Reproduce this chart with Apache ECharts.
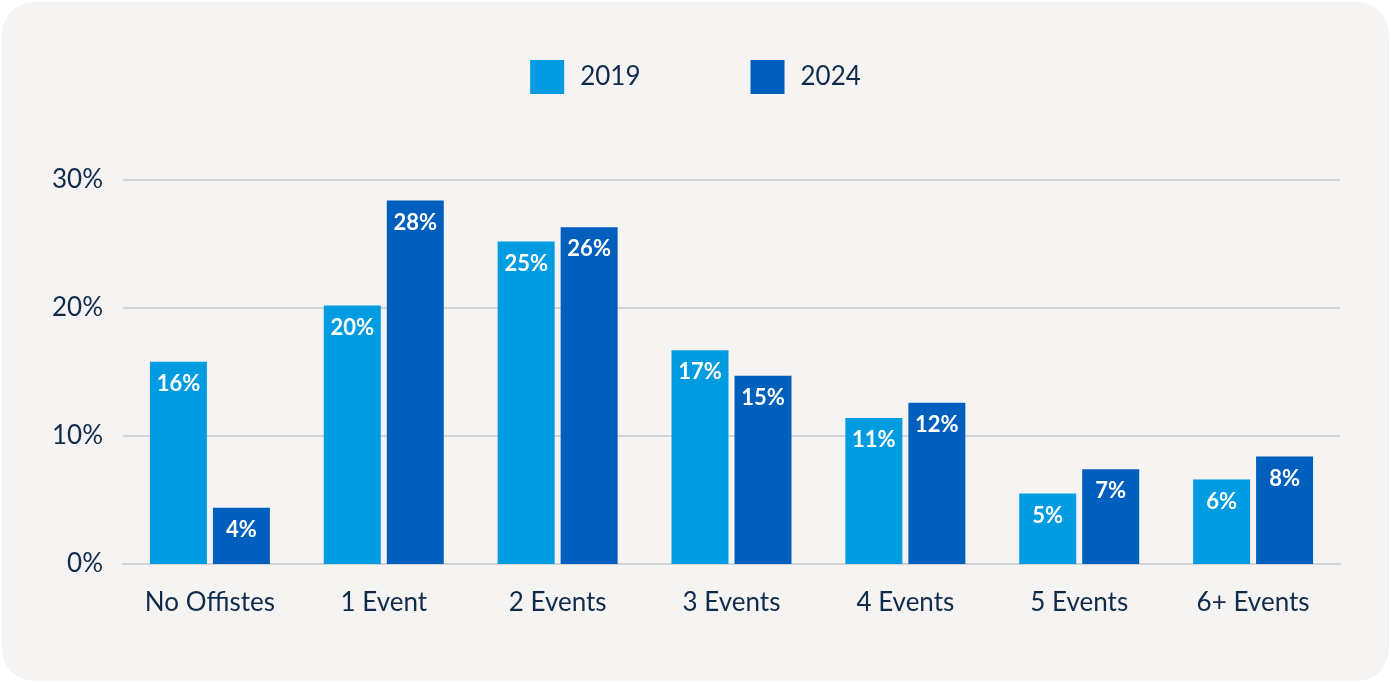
<!DOCTYPE html>
<html><head><meta charset="utf-8">
<script src="https://cdn.jsdelivr.net/npm/echarts@6/dist/echarts.min.js"></script>
<style>
html,body{margin:0;padding:0;background:#ffffff;}
#wrap{position:absolute;left:2px;top:2px;width:1387px;height:679px;border-radius:32px;background:#f5f4f2;}
#chart{position:absolute;left:0;top:0;width:1391px;height:683px;}
</style></head>
<body>
<div id="wrap"></div>
<div id="chart"></div>
<script>
const categories = ['No Offistes','1 Event','2 Events','3 Events','4 Events','5 Events','6+ Events'];
const values2019 = [15.8, 20.2, 25.2, 16.7, 11.4, 5.5, 6.6];
const values2024 = [4.4, 28.4, 26.3, 14.7, 12.6, 7.4, 8.4];
const labels2019 = ['16%','20%','25%','17%','11%','5%','6%'];
const labels2024 = ['4%','28%','26%','15%','12%','7%','8%'];
const yTicks = [0, 10, 20, 30];

const textColor = '#0f2b4c';
const chart = echarts.init(document.getElementById('chart'), null, {renderer:'canvas'});
const labelStyle = (arr) => ({
  show: true, position: 'insideTop', distance: 11,
  color: '#ffffff', fontFamily: 'Lato', fontWeight: 'bold', fontSize: 22,
  formatter: p => arr[p.dataIndex]
});
chart.setOption({
  backgroundColor: 'transparent',
  textStyle: {fontFamily: 'Lato'},
  legend: {
    top: 55, left: 'center', itemWidth: 34, itemHeight: 34, itemGap: 110,
    icon: 'rect',
    textStyle: {color: textColor, fontSize: 26, fontFamily: 'Lato', padding: [0,0,0,11]},
    data: ['2019','2024']
  },
  grid: {left: 123, right: 51, top: 180, bottom: 119, containLabel: false},
  xAxis: {
    type: 'category', data: categories,
    axisLine: {show: true, lineStyle: {color: '#d4d4d4', width: 2}},
    axisTick: {show: false},
    axisLabel: {color: textColor, fontSize: 26, fontFamily: 'Lato', margin: 26}
  },
  yAxis: {
    type: 'value', min: yTicks[0], max: yTicks[yTicks.length-1], interval: 10,
    axisLine: {show: false}, axisTick: {show: false},
    splitLine: {lineStyle: {color: '#d4d4d4', width: 2}},
    axisLabel: {color: textColor, fontSize: 26, fontFamily: 'Lato', margin: 20, formatter: v => v + '%'}
  },
  series: [
    {name: '2019', type: 'bar', data: values2019, barWidth: 57, barGap: '10.5%',
     itemStyle: {color: '#009be0'}, label: labelStyle(labels2019)},
    {name: '2024', type: 'bar', data: values2024, barWidth: 57,
     itemStyle: {color: '#005fbc'}, label: labelStyle(labels2024)}
  ]
});
</script>
</body></html>
